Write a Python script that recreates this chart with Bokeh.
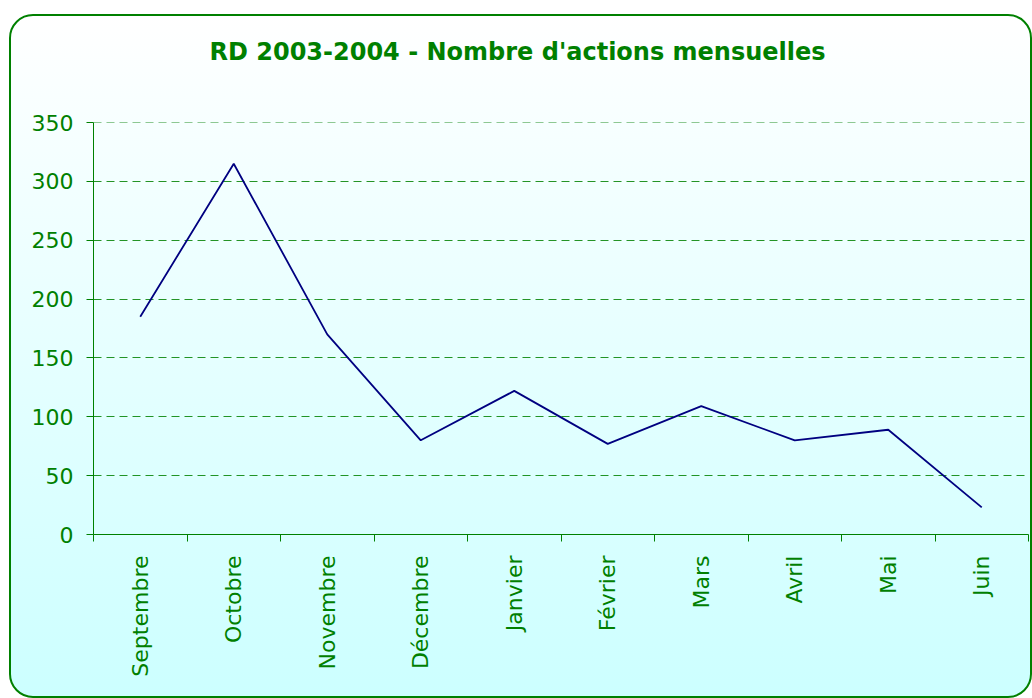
import math
from bokeh.plotting import figure
from bokeh.models import FixedTicker, ColumnDataSource, Span, Title
from bokeh.embed import file_html
from bokeh.resources import INLINE

# ---- data ----
title_text = "RD 2003-2004 - Nombre d'actions mensuelles"
months = ["Septembre", "Octobre", "Novembre", "Décembre", "Janvier",
          "Février", "Mars", "Avril", "Mai", "Juin"]
actions = [185, 315, 170, 80, 122, 77, 109, 80, 89, 23]
y_ticks = [0, 50, 100, 150, 200, 250, 300, 350]

GREEN = "#008000"
FONT = "DejaVu Sans"

centers = [i + 0.5 for i in range(len(months))]
bounds = list(range(len(months) + 1))
src = ColumnDataSource(dict(x=centers, y=actions, month=months))

p = figure(width=1023, height=684,
           x_range=(0, len(months)), y_range=(y_ticks[0], y_ticks[-1]),
           output_backend="svg", toolbar_location=None,
           min_border_left=82, min_border_right=6,
           min_border_top=106, min_border_bottom=166)

p.styles = {
    "margin-top": "14px",
    "margin-left": "9px",
    "border": "2px solid #008000",
    "border-radius": "24px",
    "box-sizing": "border-box",
    "background": "linear-gradient(to bottom, #ffffff 0%, #ccffff 100%)",
    "overflow": "hidden",
}
p.background_fill_color = None
p.border_fill_color = None
p.outline_line_color = None

# spacer between plot frame and the title (invisible blank title)
p.add_layout(Title(text=" ", text_font=FONT, text_font_size="24px",
                   standoff=22), "above")
# real chart title
p.add_layout(Title(text=title_text, text_font=FONT, text_font_size="24px",
                   text_font_style="bold", text_color=GREEN,
                   align="left", offset=116, standoff=10), "above")

p.line(x="x", y="y", source=src, line_color="#000080", line_width=1.8)

# x axis
xa = p.xaxis[0]
xa.ticker = FixedTicker(ticks=centers, minor_ticks=bounds)
xa.major_label_overrides = {c: m for c, m in zip(centers, months)}
xa.major_tick_line_color = None
xa.major_tick_out = 0
xa.major_tick_in = 0
xa.minor_tick_line_color = GREEN
xa.minor_tick_out = 7
xa.minor_tick_in = 0
xa.axis_line_color = GREEN
xa.major_label_orientation = math.pi / 2
xa.major_label_standoff = 14
xa.major_label_text_font = FONT
xa.major_label_text_font_size = "22px"
xa.major_label_text_color = GREEN

# y axis
ya = p.yaxis[0]
ya.ticker = FixedTicker(ticks=y_ticks)
ya.major_tick_out = 7
ya.major_tick_in = 0
ya.major_tick_line_color = GREEN
ya.minor_tick_line_color = None
ya.axis_line_color = GREEN
ya.major_label_standoff = 13
ya.major_label_text_font = FONT
ya.major_label_text_font_size = "22px"
ya.major_label_text_color = GREEN

p.xgrid.grid_line_color = None
p.ygrid.grid_line_color = GREEN
p.ygrid.grid_line_alpha = 0.85
p.ygrid.grid_line_dash = "8 5"
p.ygrid.grid_line_width = 1

# top gridline (350) which sits on the frame edge
p.add_layout(Span(location=y_ticks[-1], dimension="width", line_color=GREEN,
                  line_alpha=0.85, line_dash="8 5", line_width=1))

open("out.html", "w").write(file_html(p, INLINE))
